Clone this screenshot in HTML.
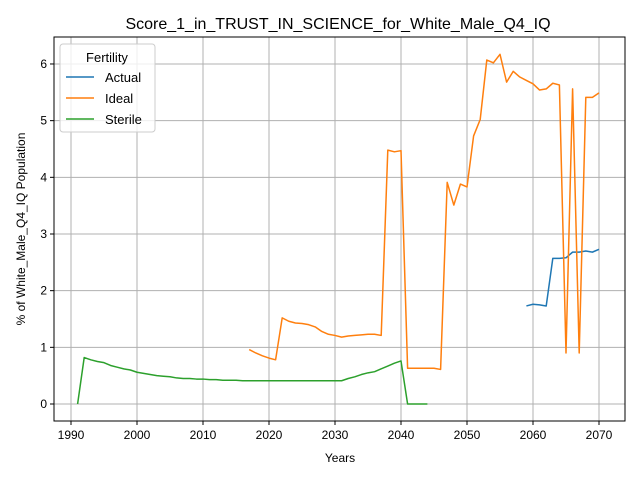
<!DOCTYPE html>
<html><head><meta charset="utf-8"><style>body{margin:0;background:#fff}svg{font-family:"Liberation Sans","DejaVu Sans",sans-serif}</style></head>
<body>
<svg id="c" width="640" height="480"></svg>
<script>
const years = [];
for (let y = 1991; y <= 2070; y++) years.push(y);
const actualYears = [2059,2060,2061,2062,2063,2064,2065,2066,2067,2068,2069,2070];
const actualVals = [1.73,1.76,1.75,1.73,2.57,2.57,2.58,2.68,2.68,2.70,2.68,2.73];
const idealYears = [2017,2018,2019,2020,2021,2022,2023,2024,2025,2026,2027,2028,2029,2030,2031,2032,2033,2034,2035,2036,2037,2038,2039,2040,2041,2042,2043,2044,2045,2046,2047,2048,2049,2050,2051,2052,2053,2054,2055,2056,2057,2058,2059,2060,2061,2062,2063,2064,2065,2066,2067,2068,2069,2070];
const idealVals = [0.96,0.90,0.85,0.81,0.78,1.52,1.46,1.43,1.42,1.40,1.36,1.28,1.23,1.21,1.18,1.20,1.21,1.22,1.23,1.23,1.21,4.48,4.45,4.47,0.63,0.63,0.63,0.63,0.63,0.61,3.91,3.51,3.88,3.83,4.73,5.02,6.07,6.02,6.17,5.68,5.87,5.77,5.71,5.65,5.54,5.56,5.66,5.63,0.90,5.56,0.90,5.41,5.41,5.49];
const sterileYears = [1991,1992,1993,1994,1995,1996,1997,1998,1999,2000,2001,2002,2003,2004,2005,2006,2007,2008,2009,2010,2011,2012,2013,2014,2015,2016,2017,2018,2019,2020,2021,2022,2023,2024,2025,2026,2027,2028,2029,2030,2031,2032,2033,2034,2035,2036,2037,2038,2039,2040,2041,2042,2043,2044];
const sterileVals = [0,0.82,0.78,0.75,0.73,0.68,0.65,0.62,0.60,0.56,0.54,0.52,0.50,0.49,0.48,0.46,0.45,0.45,0.44,0.44,0.43,0.43,0.42,0.42,0.42,0.41,0.41,0.41,0.41,0.41,0.41,0.41,0.41,0.41,0.41,0.41,0.41,0.41,0.41,0.41,0.41,0.45,0.48,0.52,0.55,0.57,0.62,0.67,0.72,0.76,0,0,0,0];
const xTicks = [1990,2000,2010,2020,2030,2040,2050,2060,2070];
const yTicks = [0,1,2,3,4,5,6];

const L=54,R=625,T=37,B=421;
const x = v => 71 + (v-1990)*6.6;
const y = v => 404 - v*56.67;
const svg = document.getElementById('c');
const NS='http://www.w3.org/2000/svg';
function mk(tag, attrs, parent){const e=document.createElementNS(NS,tag);for(const k in attrs)e.setAttribute(k,attrs[k]);(parent||svg).appendChild(e);return e;}

mk('text',{x:338,y:29,'text-anchor':'middle','font-size':16}).textContent='Score_1_in_TRUST_IN_SCIENCE_for_White_Male_Q4_IQ';
xTicks.forEach(t=>{
  const g=mk('line',{x1:x(t),x2:x(t),y1:T,y2:B,stroke:'#b0b0b0','stroke-width':1});
  
  mk('line',{x1:x(t),x2:x(t),y1:B,y2:B+4,stroke:'#000'});
  const tx=mk('text',{x:x(t),y:B+18,'text-anchor':'middle','font-size':12});tx.textContent=t;
  
});
yTicks.forEach(t=>{
  const g=mk('line',{x1:L,x2:R,y1:y(t),y2:y(t),stroke:'#b0b0b0','stroke-width':1});
  
  mk('line',{x1:L-4,x2:L,y1:y(t),y2:y(t),stroke:'#000'});
  const tx=mk('text',{x:L-7,y:y(t)+4,'text-anchor':'end','font-size':12});tx.textContent=t;
  
});
const fr=mk('rect',{x:L,y:T,width:R-L,height:B-T,fill:'none',stroke:'#000','stroke-width':1});

const xl=mk('text',{x:340,y:462,'text-anchor':'middle','font-size':12});xl.textContent='Years';

const yl=mk('text',{x:25,y:229,'text-anchor':'middle','font-size':12,transform:'rotate(-90 25 229)'});yl.textContent='% of White_Male_Q4_IQ Population';


function line(xs,vs,color,name){
  const p=mk('polyline',{points:xs.map((t,i)=>x(t)+','+y(vs[i])).join(' '),fill:'none',stroke:color,'stroke-width':1.5,'stroke-linejoin':'round'});
  
}
line(actualYears,actualVals,'#1f77b4','actual-line');
line(idealYears,idealVals,'#ff7f0e','ideal-line');
line(sterileYears,sterileVals,'#2ca02c','sterile-line');

const lg=mk('g',{});

mk('rect',{x:60,y:44,width:95,height:88,rx:3,fill:'#fff','fill-opacity':0.8,stroke:'#ccc'},lg);
mk('text',{x:107,y:62,'text-anchor':'middle','font-size':13},lg).textContent='Fertility';
[['Actual','#1f77b4'],['Ideal','#ff7f0e'],['Sterile','#2ca02c']].forEach((d,i)=>{
  const yy=77+i*21;
  mk('line',{x1:66,x2:94,y1:yy,y2:yy,stroke:d[1],'stroke-width':1.5},lg);
  const t=mk('text',{x:105,y:yy+5,'font-size':13},lg);t.textContent=d[0];
  
});
</script>
</body></html>
